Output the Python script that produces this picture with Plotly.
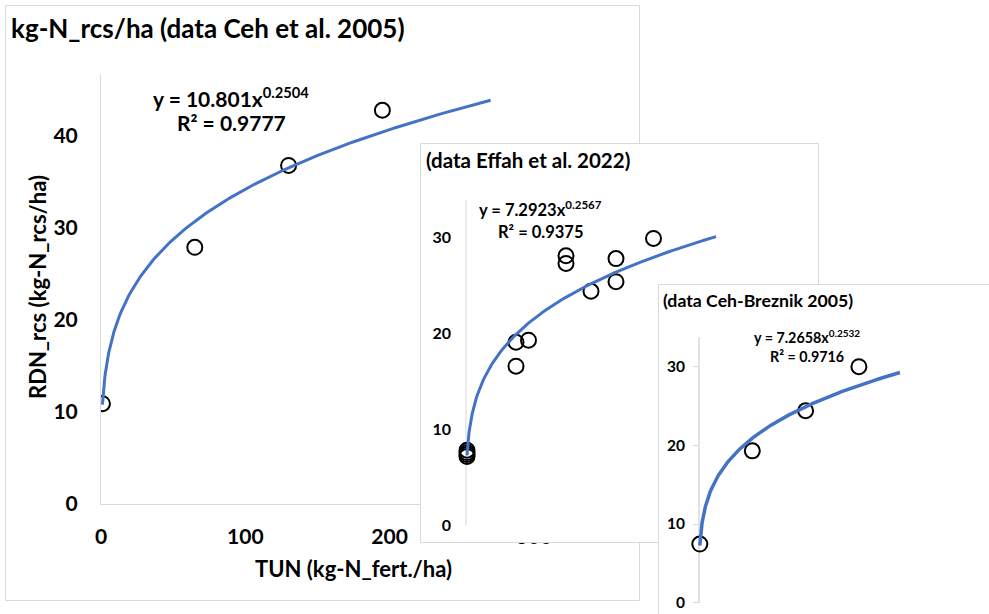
import numpy as np
import plotly.graph_objects as go

W, H = 989, 614

# ---------------- data ----------------
ceh_tun = [1, 65, 130, 195]
ceh_rdn = [10.9, 27.9, 36.8, 42.8]
ceh_coef = 10.801
ceh_exp = 0.2504
ceh_r2 = 0.9777
ceh_fit_end = 270

effah_tun = [1, 1, 1, 1, 50, 50, 62.5, 100, 100, 125, 150, 150, 187.5]
effah_rdn = [7.85, 7.6, 7.4, 7.2, 19.1, 16.6, 19.3, 28.1, 27.3, 24.4, 27.8, 25.4, 29.9]
effah_coef = 7.2923
effah_exp = 0.2567
effah_r2 = 0.9375
effah_fit_end = 250

breznik_tun = [1, 65, 130, 195]
breznik_rdn = [7.45, 19.3, 24.4, 30.0]
breznik_coef = 7.2658
breznik_exp = 0.2532
breznik_r2 = 0.9716
breznik_fit_end = 245

main_y_ticks = [0, 10, 20, 30, 40]
main_x_ticks = [0, 100, 200, 300]
inset_y_ticks = [0, 10, 20, 30]

# ---------------- styling ----------------
FONT = "Lato"
BLUE = "#4472C4"
GRID = "#D9D9D9"


def fx(p):
    return p / W


def fy(p):
    return 1 - p / H


def xrange_px(origin, scale, left, right):
    return [(left - origin) / scale, (right - origin) / scale]


def yrange_px(origin, scale, bottom, top):
    return [(origin - bottom) / scale, (origin - top) / scale]


def power_curve(coef, expo, end):
    xs = np.concatenate([np.linspace(1, 10, 60), np.linspace(10, end, 200)[1:]])
    return xs, coef * xs ** expo


marker = dict(size=15, color="rgba(0,0,0,0)", line=dict(color="black", width=2))

fig = go.Figure()

# panel geometry (pixels): origin and scale of each plot
P1 = dict(x0=101, sx=1.443, y0=504, sy=9.2, left=101, right=700, top=74, bottom=504)
P2 = dict(x0=466, sx=1.0, y0=525.5, sy=9.6, left=420, right=819, top=143, bottom=543)
P3 = dict(x0=699, sx=0.82, y0=602.7, sy=7.867, left=658, right=989, top=284, bottom=614)

# ---- panel 1 ----
fig.add_trace(go.Scatter(x=ceh_tun, y=ceh_rdn, mode="markers", marker=marker,
                         xaxis="x", yaxis="y", showlegend=False))
cx, cy = power_curve(ceh_coef, ceh_exp, ceh_fit_end)
fig.add_trace(go.Scatter(x=cx, y=cy, mode="lines", line=dict(color=BLUE, width=3),
                         xaxis="x", yaxis="y", showlegend=False))

# ---- panel 2 ----
fig.add_trace(go.Scatter(x=effah_tun, y=effah_rdn, mode="markers", marker=marker,
                         xaxis="x2", yaxis="y2", showlegend=False))
cx, cy = power_curve(effah_coef, effah_exp, effah_fit_end)
fig.add_trace(go.Scatter(x=cx, y=cy, mode="lines", line=dict(color=BLUE, width=3),
                         xaxis="x2", yaxis="y2", showlegend=False))

# ---- panel 3 ----
fig.add_trace(go.Scatter(x=breznik_tun, y=breznik_rdn, mode="markers", marker=marker,
                         xaxis="x3", yaxis="y3", showlegend=False))
cx, cy = power_curve(breznik_coef, breznik_exp, breznik_fit_end)
fig.add_trace(go.Scatter(x=cx, y=cy, mode="lines", line=dict(color=BLUE, width=3.5),
                         xaxis="x3", yaxis="y3", showlegend=False))

bold = lambda s: dict(family=FONT, size=s, color="black", weight="bold")

layout = dict(
    width=W, height=H, margin=dict(l=0, r=0, t=0, b=0, autoexpand=False),
    paper_bgcolor="white", plot_bgcolor="white",
    font=dict(family=FONT, color="black"),
    xaxis=dict(domain=[fx(P1["left"]), fx(P1["right"])],
               range=xrange_px(P1["x0"], P1["sx"], P1["left"], P1["right"]),
               anchor="y", showgrid=False, zeroline=False, showline=True,
               linecolor=GRID, linewidth=1, tickvals=main_x_ticks,
               tickfont=bold(21), ticks="", ticklabelstandoff=14, automargin=False),
    yaxis=dict(domain=[fy(P1["bottom"]), fy(P1["top"])],
               range=yrange_px(P1["y0"], P1["sy"], P1["bottom"], P1["top"]),
               anchor="x", showgrid=False, zeroline=False, showline=True,
               linecolor=GRID, linewidth=1, tickvals=main_y_ticks,
               tickfont=bold(21), ticks="", ticklabelstandoff=18, automargin=False),
    xaxis2=dict(domain=[fx(P2["left"]), fx(P2["right"])],
                range=xrange_px(P2["x0"], P2["sx"], P2["left"], P2["right"]),
                anchor="y2", visible=False, automargin=False),
    yaxis2=dict(domain=[fy(P2["bottom"]), fy(P2["top"])],
                range=yrange_px(P2["y0"], P2["sy"], P2["bottom"], P2["top"]),
                anchor="free", position=fx(P2["x0"]), showgrid=False, zeroline=False,
                showline=False, tickvals=inset_y_ticks, tickfont=bold(16), ticks="",
                ticklabelstandoff=15, automargin=False),
    xaxis3=dict(domain=[fx(P3["left"]), fx(P3["right"])],
                range=xrange_px(P3["x0"], P3["sx"], P3["left"], P3["right"]),
                anchor="y3", visible=False, automargin=False),
    yaxis3=dict(domain=[fy(P3["bottom"]), fy(P3["top"])],
                range=yrange_px(P3["y0"], P3["sy"], P3["bottom"], P3["top"]),
                anchor="free", position=fx(P3["x0"]), showgrid=False, zeroline=False,
                showline=False, tickvals=inset_y_ticks, tickfont=bold(15.5),
                ticks="outside", ticklen=6, tickcolor=GRID, tickwidth=1,
                ticklabelstandoff=5, automargin=False),
)
fig.update_layout(**layout)


def inset_rect(P, xa, ya, right_open=False):
    # frame drawn half a pixel inside the plot area so it is not clipped
    x_lo = (P["left"] + 0.5 - P["x0"]) / P["sx"]
    x_hi = (P["right"] - 0.5 - P["x0"]) / P["sx"]
    y_hi = (P["y0"] - (P["top"] + 0.5)) / P["sy"]
    y_lo = (P["y0"] - (P["bottom"] - 0.5)) / P["sy"]
    if right_open:
        x_hi += 50
        y_lo -= 10
    return dict(type="rect", xref=xa, yref=ya, x0=x_lo, x1=x_hi, y0=y_lo, y1=y_hi,
                line=dict(color=GRID, width=1), layer="below")


shapes = [
    # outer frame of the main chart
    dict(type="rect", xref="paper", yref="paper", x0=fx(5.5), x1=fx(639.5),
         y0=fy(600.5), y1=fy(5.5), line=dict(color=GRID, width=1),
         fillcolor="white", layer="below"),
    inset_rect(P2, "x2", "y2"),
    dict(type="line", xref="x2", yref="y2", x0=0, x1=0, y0=0,
         y1=(P2["y0"] - 200) / P2["sy"], line=dict(color=GRID, width=1), layer="below"),
    inset_rect(P3, "x3", "y3", right_open=True),
    dict(type="line", xref="x3", yref="y3", x0=0, x1=0, y0=0,
         y1=(P3["y0"] - 337) / P3["sy"], line=dict(color=GRID, width=1.5), layer="below"),
]
fig.update_layout(shapes=shapes)


def ann(text, x, y, size, xanchor="center", yanchor="middle", angle=0):
    return dict(text=text, x=fx(x), y=fy(y), xref="paper", yref="paper",
                showarrow=False, xanchor=xanchor, yanchor=yanchor, textangle=angle,
                font=bold(size))


annotations = [
    ann("kg-N_rcs/ha (data Ceh et al. 2005)", 9, 28, 26, xanchor="left"),
    ann(f"y = {ceh_coef}x<sup>{ceh_exp}</sup>", 231, 97, 21),
    ann(f"R² = {ceh_r2}", 231, 123, 21),
    ann("RDN_rcs (kg-N_rcs/ha)", 37, 287, 22, angle=-90),
    ann("TUN (kg-N_fert./ha)", 353, 568, 22),
    ann("(data Effah et al. 2022)", 424, 160, 20.5, xanchor="left"),
    ann(f"y = {effah_coef}x<sup>{effah_exp}</sup>", 540, 209, 16.5),
    ann(f"R² = {effah_r2}", 540, 232, 16.5),
    ann("(data Ceh-Breznik 2005)", 661, 300, 17.7, xanchor="left"),
    ann(f"y = {breznik_coef}x<sup>{breznik_exp}</sup>", 807, 336, 14.3),
    ann(f"R² = {breznik_r2}", 807, 356, 14.3),
]
fig.update_layout(annotations=annotations)

fig.write_html("out.html", config={"displayModeBar": False})
